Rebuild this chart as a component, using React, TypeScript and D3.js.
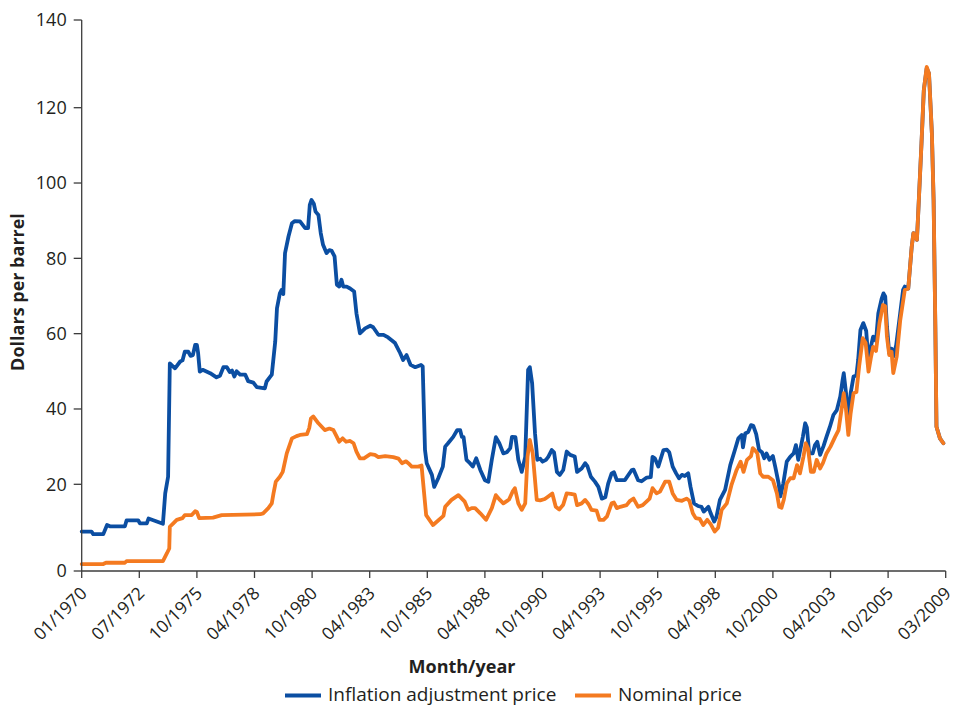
import React from "react";
import * as d3 from "d3";

// x positions are expressed in axis-tick units (0 = 01/1970 ... 15 = 03/2009)
const tickLabels = ["01/1970","07/1972","10/1975","04/1978","10/1980","04/1983","10/1985","04/1988","10/1990","04/1993","10/1995","04/1998","10/2000","04/2003","10/2005","03/2009"];
const yTicks = [0, 20, 40, 60, 80, 100, 120, 140];

const inflationAdjusted: [number, number][] = [[0,9.1],[0.17,9.1],[0.20,8.5],[0.375,8.5],[0.44,10.6],[0.49,10.3],[0.75,10.3],[0.78,11.7],[0.98,11.7],[1.01,11.0],[1.13,11.0],[1.16,12.1],[1.41,10.9],[1.45,17.9],[1.50,22.0],[1.53,52.1],[1.62,50.8],[1.71,52.6],[1.75,52.9],[1.79,55.2],[1.85,55.2],[1.89,54.1],[1.93,54.3],[1.97,57],[2.00,57],[2.02,55],[2.05,49.9],[2.10,50.4],[2.23,49.5],[2.34,48.4],[2.40,48.8],[2.46,51.1],[2.52,51.1],[2.57,49.8],[2.61,50.2],[2.65,48.6],[2.69,50.0],[2.75,49.1],[2.84,49.1],[2.89,47.4],[2.98,47],[3.04,45.8],[3.18,45.5],[3.21,47.3],[3.30,49.1],[3.36,57.9],[3.39,66.7],[3.44,70.7],[3.47,71.6],[3.50,70.5],[3.53,81.4],[3.59,85.8],[3.65,89.3],[3.70,89.9],[3.79,89.8],[3.88,88],[3.93,88],[3.96,94.2],[3.99,95.5],[4.03,94.5],[4.06,92.4],[4.11,91.5],[4.15,86.7],[4.19,83.6],[4.25,81.4],[4.30,82.2],[4.34,82.0],[4.39,80.5],[4.43,73],[4.47,72.5],[4.51,74.3],[4.54,72.5],[4.60,72.5],[4.66,72.0],[4.73,71.2],[4.77,65.4],[4.83,60.1],[4.92,61.4],[5.01,62.1],[5.06,61.7],[5.15,59.7],[5.24,59.7],[5.32,59],[5.44,57.5],[5.53,54.8],[5.58,53],[5.64,54.3],[5.71,51.7],[5.79,51.1],[5.89,51.7],[5.92,51.3],[5.96,29.1],[5.99,25.6],[6.08,22.5],[6.12,19.4],[6.19,21.6],[6.27,24.7],[6.31,30],[6.36,30.9],[6.45,32.6],[6.52,34.4],[6.57,34.4],[6.60,32.6],[6.63,32.5],[6.68,26.5],[6.74,25.6],[6.79,24.7],[6.85,26.9],[6.92,23.8],[7.00,21.1],[7.06,20.7],[7.12,26.5],[7.19,32.5],[7.25,30.9],[7.32,28.2],[7.38,28.5],[7.44,29.6],[7.47,32.6],[7.53,32.5],[7.58,26.5],[7.64,23.3],[7.70,27.3],[7.75,50.4],[7.78,51.1],[7.82,46.8],[7.87,33.5],[7.91,26.5],[7.96,26.8],[8.00,26],[8.06,26.5],[8.10,27.3],[8.16,29.1],[8.20,28.5],[8.25,23.3],[8.30,22.5],[8.36,23.8],[8.42,28.7],[8.48,27.8],[8.56,27.4],[8.60,23.3],[8.68,24.2],[8.74,25.6],[8.78,24.8],[8.84,22],[8.91,20.7],[8.97,19.4],[9.03,16.7],[9.09,17.0],[9.14,20.2],[9.20,22.9],[9.24,23.2],[9.29,21.1],[9.43,21.1],[9.55,23.8],[9.58,23.9],[9.66,21.1],[9.72,20.8],[9.81,21.8],[9.88,21.9],[9.91,27.3],[9.95,26.9],[10.01,24.7],[10.10,29.1],[10.16,29.2],[10.20,28.5],[10.26,24.7],[10.32,22.9],[10.37,21.6],[10.42,22.5],[10.47,22.2],[10.53,22.9],[10.57,19.4],[10.63,15.6],[10.70,15],[10.76,14.8],[10.80,13.7],[10.88,14.8],[10.92,13.3],[10.98,11.4],[11.02,12.5],[11.08,16.4],[11.17,18.7],[11.26,25.1],[11.34,29.1],[11.40,32.2],[11.46,33.1],[11.48,29.8],[11.52,33.5],[11.57,33.9],[11.62,35.7],[11.66,35.5],[11.71,33.3],[11.76,29.1],[11.81,28.5],[11.85,26.9],[11.89,28.2],[11.94,26.5],[12.00,27.5],[12.04,24.7],[12.10,20.2],[12.13,17.2],[12.18,20.2],[12.24,26],[12.30,27.3],[12.36,28.2],[12.40,30.4],[12.44,26.5],[12.52,32.6],[12.56,36.2],[12.59,35.1],[12.63,28.2],[12.69,28.2],[12.73,30.4],[12.77,31.3],[12.82,27.8],[12.88,30.2],[12.93,32.6],[12.99,35.3],[13.05,38.4],[13.11,39.7],[13.17,43.3],[13.21,47.7],[13.23,49.5],[13.27,44.2],[13.31,37.1],[13.35,44.2],[13.40,48.6],[13.45,48.9],[13.48,53],[13.52,61],[13.57,62.8],[13.62,60.7],[13.66,52.6],[13.70,56.5],[13.74,59.2],[13.79,58.1],[13.83,65.4],[13.89,69.4],[13.92,70.7],[13.95,69.9],[13.98,61.9],[14.02,54.8],[14.06,56],[14.09,53.9],[14.14,56.9],[14.21,65.4],[14.26,71.6],[14.29,72.5],[14.35,72.0],[14.41,83.1],[14.44,86.7],[14.50,84.9],[14.52,91.1],[14.58,110.6],[14.62,124],[14.67,129],[14.71,127.8],[14.76,113.2],[14.79,95.5],[14.82,62],[14.84,35.3],[14.90,32.2],[14.96,30.9]];

const nominal: [number, number][] = [[0,1.6],[0.375,1.6],[0.42,1.9],[0.75,1.9],[0.78,2.3],[1.41,2.3],[1.48,4.1],[1.52,5.2],[1.53,10.2],[1.59,11],[1.65,11.8],[1.75,12.2],[1.79,12.9],[1.91,12.9],[1.97,13.8],[2.00,13.6],[2.04,12.2],[2.28,12.3],[2.43,12.9],[3.10,13.1],[3.15,13.3],[3.24,14.5],[3.30,15.6],[3.33,17.9],[3.37,20.7],[3.44,22],[3.49,23.3],[3.56,28.2],[3.65,32.2],[3.73,32.8],[3.79,33.1],[3.91,33.3],[3.95,34.9],[3.98,37.5],[4.02,38],[4.11,36.2],[4.22,34.4],[4.30,34.8],[4.37,34.4],[4.43,32.6],[4.47,31.3],[4.53,32.2],[4.59,31.3],[4.66,31.5],[4.72,30.9],[4.77,28.7],[4.83,26.9],[4.90,26.9],[5.01,28],[5.09,27.8],[5.15,27.2],[5.27,27.5],[5.41,27.2],[5.50,26.8],[5.56,25.6],[5.63,26.1],[5.67,25.6],[5.73,24.7],[5.84,24.7],[5.90,25.0],[5.98,12.9],[6.10,10.6],[6.28,12.7],[6.31,14.8],[6.42,16.4],[6.54,17.5],[6.65,16],[6.71,14.1],[6.77,14.5],[6.83,14.5],[6.92,13.3],[7.02,11.8],[7.12,14.5],[7.19,17.5],[7.26,16.4],[7.32,15.6],[7.42,16.5],[7.48,18.3],[7.52,19.1],[7.58,15.6],[7.64,14.1],[7.70,15.6],[7.74,27.3],[7.78,31.8],[7.83,28.2],[7.90,16.4],[7.96,16.3],[8.04,16.6],[8.10,17.2],[8.17,17.9],[8.23,14.8],[8.29,14.2],[8.36,15.3],[8.42,17.9],[8.49,17.8],[8.56,17.6],[8.60,15.2],[8.68,15.6],[8.74,16.4],[8.80,15.4],[8.85,14.1],[8.94,13.9],[8.99,11.8],[9.06,11.8],[9.12,12.6],[9.20,15.6],[9.24,15.8],[9.29,14.5],[9.35,14.8],[9.46,15.2],[9.52,16.2],[9.58,16.7],[9.66,14.8],[9.74,15.2],[9.86,16.7],[9.91,19.1],[9.98,17.9],[10.04,18.3],[10.13,20.7],[10.20,20.7],[10.26,17.9],[10.33,16.4],[10.42,16.2],[10.50,16.7],[10.55,16.2],[10.61,13.3],[10.66,12.2],[10.73,12.0],[10.79,10.6],[10.86,11.8],[10.92,10.8],[10.99,9.1],[11.05,10.0],[11.11,14.1],[11.20,15.6],[11.28,19.8],[11.37,23.8],[11.44,26],[11.49,23.3],[11.55,26.5],[11.62,27.5],[11.65,29.6],[11.69,29.0],[11.73,28.2],[11.78,22.9],[11.83,22],[11.92,22],[12.00,21.1],[12.07,17.9],[12.11,14.8],[12.15,14.6],[12.19,16.5],[12.24,20.2],[12.30,21.6],[12.36,21.6],[12.42,25.1],[12.47,22.9],[12.53,27.3],[12.57,30.9],[12.61,29.5],[12.66,23.3],[12.71,23.3],[12.76,26.5],[12.82,24.2],[12.87,25.7],[12.93,28.2],[13.00,30],[13.08,32.6],[13.14,34.4],[13.19,39.7],[13.23,44.2],[13.27,39.7],[13.31,33.1],[13.35,38.9],[13.40,44.2],[13.45,44.5],[13.50,51.7],[13.56,58.8],[13.61,57.5],[13.66,49.9],[13.70,53.5],[13.74,56.5],[13.79,55.4],[13.85,62.8],[13.91,67.6],[13.95,67.3],[13.98,59.2],[14.02,54.3],[14.06,55.2],[14.09,49.5],[14.15,54.0],[14.21,63.5],[14.29,71.6],[14.35,72.0],[14.41,83.1],[14.44,86.7],[14.50,84.9],[14.52,91.1],[14.58,110.6],[14.62,124],[14.67,129.3],[14.71,127.8],[14.76,113.2],[14.79,95.5],[14.82,62],[14.84,35.3],[14.90,32.2],[14.96,30.9]];

const seriesNames = ["Inflation adjustment price", "Nominal price"];
const seriesColors = ["#0b4ea2", "#f47a20"];

const W = 956;
const H = 706;
const FONT = "'Open Sans', 'DejaVu Sans', sans-serif";
const TEXT = "#231f20";
const AXIS = "#3c3c3c";

export default function App() {
  const x = d3.scaleLinear().domain([0, tickLabels.length - 1]).range([81.7, 945.7]);
  // original chart uses uneven spacing at both ends of the value axis
  const y = d3.scaleLinear().domain([0, 20, 120, 140]).range([571, 484.3, 107.7, 20]);
  const line = d3
    .line<[number, number]>()
    .x((d) => x(d[0]))
    .y((d) => y(d[1]))
    .curve(d3.curveLinear);

  const x0 = x(0);
  const y0 = y(0);

  return (
    <svg
      width={W}
      height={H}
      viewBox={`0 0 ${W} ${H}`}
      style={{ position: "absolute", left: 0, top: 0, background: "#fff" }}
      fontFamily={FONT}
    >
      {/* lines */}
      <path d={line(inflationAdjusted) || ""} fill="none" stroke={seriesColors[0]} strokeWidth={3.8} strokeLinejoin="round" strokeLinecap="round" />
      <path d={line(nominal) || ""} fill="none" stroke={seriesColors[1]} strokeWidth={3.8} strokeLinejoin="round" strokeLinecap="round" />

      {/* y axis */}
      <line x1={x0} x2={x0} y1={y(140)} y2={y0} stroke={AXIS} strokeWidth={1.3} />
      {yTicks.map((t) => (
        <g key={t}>
          <line x1={x0 - 8} x2={x0} y1={y(t)} y2={y(t)} stroke={AXIS} strokeWidth={1.3} />
          <text x={x0 - 15} y={y(t)} dy="0.35em" textAnchor="end" fontSize={18} fill={TEXT}>
            {t}
          </text>
        </g>
      ))}

      {/* x axis */}
      <line x1={x0} x2={x(tickLabels.length - 1)} y1={y0} y2={y0} stroke={AXIS} strokeWidth={1.3} />
      {tickLabels.map((lab, i) => (
        <g key={lab}>
          <line x1={x(i)} x2={x(i)} y1={y0} y2={y0 + 7} stroke={AXIS} strokeWidth={1.3} />
          <text
            transform={`translate(${x(i) + 2},${y0 + 19}) rotate(-45)`}
            textAnchor="end"
            dy="0.35em"
            fontSize={17.5}
            fill={TEXT}
          >
            {lab}
          </text>
        </g>
      ))}

      {/* axis titles */}
      <text x={462} y={673} textAnchor="middle" fontSize={18} fontWeight="bold" fill={TEXT}>
        Month/year
      </text>
      <text transform="translate(24,292) rotate(-90)" textAnchor="middle" fontSize={18} fontWeight="bold" fill={TEXT}>
        Dollars per barrel
      </text>

      {/* legend */}
      <line x1={285} x2={321} y1={695.5} y2={695.5} stroke={seriesColors[0]} strokeWidth={4} />
      <text x={328} y={701} fontSize={19} fill={TEXT}>{seriesNames[0]}</text>
      <line x1={575} x2={611} y1={695.5} y2={695.5} stroke={seriesColors[1]} strokeWidth={4} />
      <text x={618} y={701} fontSize={19} fill={TEXT}>{seriesNames[1]}</text>
    </svg>
  );
}
